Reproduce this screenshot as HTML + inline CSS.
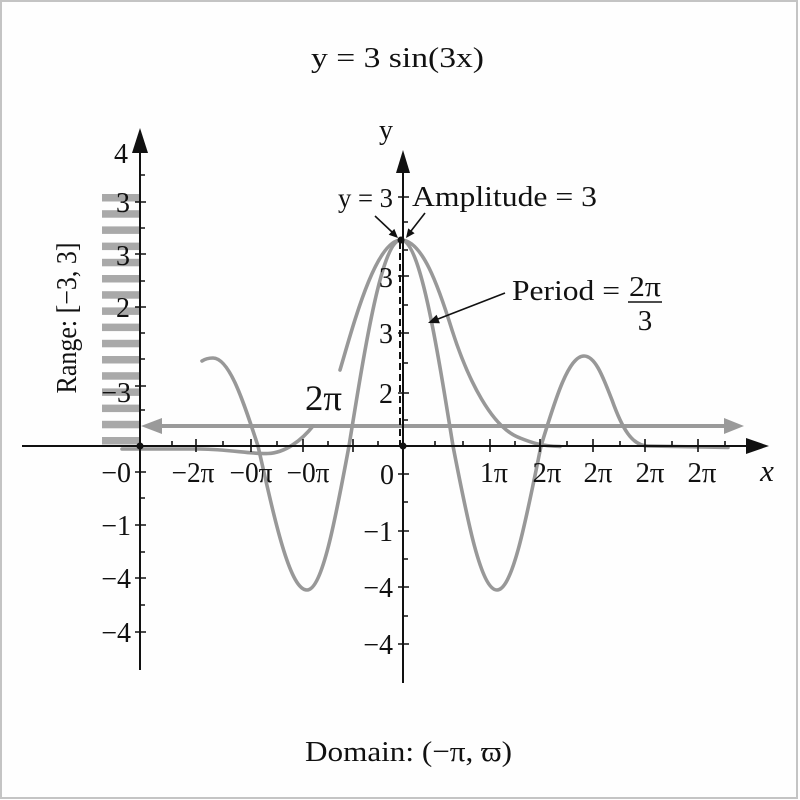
<!DOCTYPE html>
<html>
<head>
<meta charset="utf-8">
<style>
html,body{margin:0;padding:0;background:#fff;}
svg{display:block;}
text{font-family:"Liberation Serif","DejaVu Serif",serif;fill:#111;}
</style>
</head>
<body>
<svg width="800" height="800" viewBox="0 0 800 800" xmlns="http://www.w3.org/2000/svg">
<rect x="0" y="0" width="800" height="800" fill="#fefefe"/>
<rect x="1" y="1" width="796" height="797" fill="none" stroke="#c4c4c4" stroke-width="2"/>
<text x="311" y="67" font-size="29" textLength="173" lengthAdjust="spacingAndGlyphs">y = 3 sin(3x)</text>
<g fill="#a9a9a9">
<rect x="102" y="194" width="37" height="7.5"/>
<rect x="102" y="210.2" width="37" height="7.5"/>
<rect x="102" y="226.4" width="37" height="7.5"/>
<rect x="102" y="242.6" width="37" height="7.5"/>
<rect x="102" y="258.8" width="37" height="7.5"/>
<rect x="102" y="275" width="37" height="7.5"/>
<rect x="102" y="291.2" width="37" height="7.5"/>
<rect x="102" y="307.4" width="37" height="7.5"/>
<rect x="102" y="323.6" width="37" height="7.5"/>
<rect x="102" y="339.8" width="37" height="7.5"/>
<rect x="102" y="356" width="37" height="7.5"/>
<rect x="102" y="372.2" width="37" height="7.5"/>
<rect x="102" y="388.4" width="37" height="7.5"/>
<rect x="102" y="404.6" width="37" height="7.5"/>
<rect x="102" y="420.8" width="37" height="7.5"/>
<rect x="102" y="437" width="37" height="7.5"/>
</g>
<text x="76" y="318" font-size="28" text-anchor="middle" transform="rotate(-90 76 318)" textLength="151" lengthAdjust="spacingAndGlyphs">Range: [−3, 3]</text>
<line x1="158" y1="426" x2="726" y2="426" stroke="#9a9a9a" stroke-width="4"/>
<polygon points="141,426 162,418 162,434" fill="#9a9a9a"/>
<polygon points="744,426 724,418 724,434" fill="#9a9a9a"/>
<g fill="none" stroke="#989898" stroke-width="3.6" stroke-linecap="round" stroke-linejoin="round">
<path d="M202,361 C205,359 208,358 213,358 C229.3,358 243.3,400.9 258,446 C274,516.2 289.3,590 307,590 C322.2,590 335.3,519.8 349,446 C366,340.5 382.2,240 401,240 C419.8,240 436,340.5 453,446 C467.3,519.8 481,590 497,590 C512.9,590 526.7,516.2 541,446 C555,400 568.4,356 584,356 C596,356 604,380 612,400 C622,428 632,446 648,446 L728,447.5"/>
<path d="M340,370 C352,330 375,240 401,240 C422,240 438,285 452,330 C468,380 492,428 520,438 C530,442 540,446 560,446.5"/>
<path d="M122,449 L200,449 C230,449.5 250,454 268,453.5 C285,453 302,440 313,426"/>
</g>
<line x1="400" y1="242" x2="400" y2="446" stroke="#111" stroke-width="2" stroke-dasharray="7,4"/>
<g stroke="#111" stroke-width="2">
<line x1="140" y1="150" x2="140" y2="670"/>
<line x1="403" y1="170" x2="403" y2="683"/>
<line x1="22" y1="446" x2="750" y2="446"/>
</g>
<g fill="#111">
<polygon points="140,128 132,153 148,153"/>
<polygon points="403,150 396,173 410,173"/>
<polygon points="769,446 746,438 746,454"/>
<circle cx="140" cy="446" r="3.5"/>
<circle cx="403" cy="446" r="3.5"/>
<circle cx="401" cy="240" r="3.5"/>
</g>
<g stroke="#111" stroke-width="1.6">
<path d="M135,202H146M135,254H146M135,307H146M135,386H146M135,472H146M135,525H146M135,578H146M135,632H146"/>
<path d="M140,175H145M140,228H145M140,281H145M140,333H145M140,359H145M140,410H145M140,498H145M140,552H145M140,605H145"/>
<path d="M398,197H409M398,276H409M398,333H409M398,393H409M398,474H409M398,531H409M398,587H409M398,644H409"/>
<path d="M403,222H408M403,250H408M403,305H408M403,363H408M403,420H408M403,502H408M403,559H408M403,616H408"/>
<path d="M196,439V452M251,439V452M303,439V452M353,439V452M490,439V452M540,439V452M593,439V452M645,439V452M698,439V452"/>
<path d="M172,441V446M223,441V446M277,441V446M328,441V446M378,441V446M435,441V446M463,441V446M515,441V446M567,441V446M620,441V446M672,441V446M725,441V446"/>
</g>
<g font-size="28" text-anchor="end">
<text x="128" y="163">4</text>
<text x="130" y="212">3</text>
<text x="130" y="265">3</text>
<text x="130" y="317">2</text>
<text x="131" y="402">−3</text>
<text x="131" y="482">−0</text>
<text x="131" y="535">−1</text>
<text x="131" y="588">−4</text>
<text x="131" y="642">−4</text>
<text x="393" y="287">3</text>
<text x="393" y="343">3</text>
<text x="393" y="403">2</text>
<text x="394" y="484">0</text>
<text x="393" y="541">−1</text>
<text x="393" y="597">−4</text>
<text x="393" y="654">−4</text>
</g>
<text x="386" y="139" font-size="28" text-anchor="middle">y</text>
<g font-size="28" text-anchor="middle">
<text x="193" y="482" textLength="43" lengthAdjust="spacingAndGlyphs">−2π</text>
<text x="251" y="482" textLength="43" lengthAdjust="spacingAndGlyphs">−0π</text>
<text x="308" y="482" textLength="43" lengthAdjust="spacingAndGlyphs">−0π</text>
<text x="494" y="482" textLength="28" lengthAdjust="spacingAndGlyphs">1π</text>
<text x="547" y="482" textLength="29" lengthAdjust="spacingAndGlyphs">2π</text>
<text x="598" y="482" textLength="29" lengthAdjust="spacingAndGlyphs">2π</text>
<text x="650" y="482" textLength="29" lengthAdjust="spacingAndGlyphs">2π</text>
<text x="702" y="482" textLength="29" lengthAdjust="spacingAndGlyphs">2π</text>
</g>
<text x="767" y="481" font-size="31" font-style="italic" text-anchor="middle">x</text>
<text x="338" y="207" font-size="27" textLength="55" lengthAdjust="spacingAndGlyphs">y = 3</text>
<text x="412" y="206" font-size="29" textLength="185" lengthAdjust="spacingAndGlyphs">Amplitude = 3</text>
<text x="512" y="300" font-size="29" textLength="108" lengthAdjust="spacingAndGlyphs">Period =</text>
<text x="645" y="296" font-size="29" text-anchor="middle" textLength="32" lengthAdjust="spacingAndGlyphs">2π</text>
<line x1="628" y1="302" x2="662" y2="302" stroke="#111" stroke-width="1.6"/>
<text x="645" y="330" font-size="29" text-anchor="middle">3</text>
<text x="305" y="410" font-size="36" textLength="37" lengthAdjust="spacingAndGlyphs">2π</text>
<g stroke="#111" stroke-width="1.6">
<line x1="375" y1="216" x2="392" y2="232"/>
<line x1="425" y1="213" x2="411" y2="231"/>
<line x1="505" y1="293" x2="438" y2="319"/>
</g>
<g fill="#111">
<polygon points="398,238 388.7,234.7 394.3,228.9"/>
<polygon points="406,238 408.2,228.4 414.6,233.2"/>
<polygon points="428,323 436.6,314.8 439.9,323.2"/>
</g>
<text x="305" y="761" font-size="29" textLength="207" lengthAdjust="spacingAndGlyphs">Domain: (−π, ϖ)</text>
</svg>
</body>
</html>
